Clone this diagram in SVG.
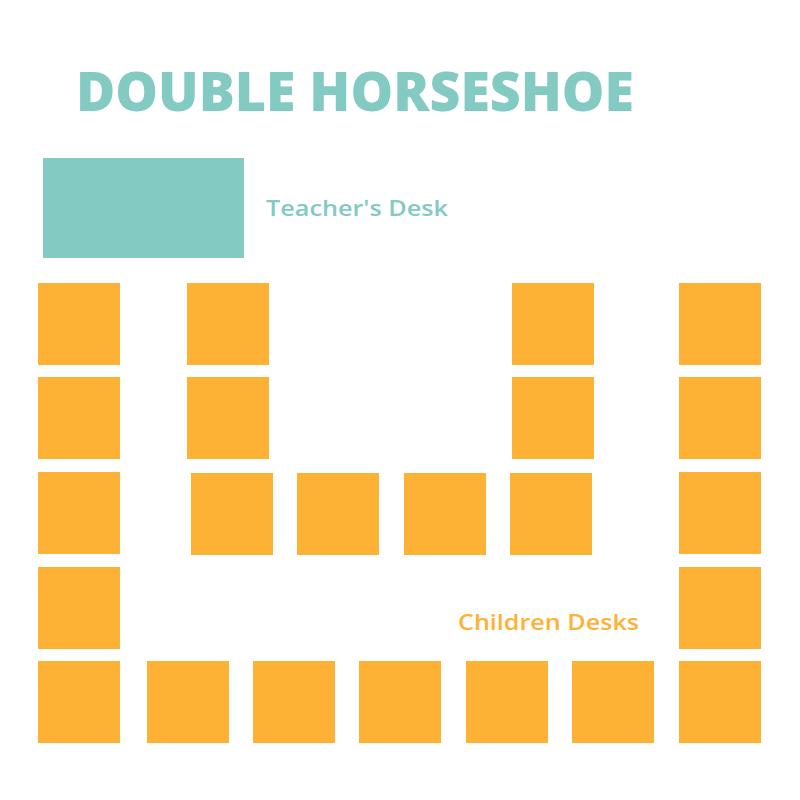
<svg xmlns="http://www.w3.org/2000/svg" width="800" height="800" viewBox="0 0 800 800">
<style>
.desk{fill:#FDB235}
.teal{fill:#82CAC2}
.title{font-family:"Open Sans","Liberation Sans",sans-serif;font-weight:800;font-size:54px;fill:#82CAC2}
.lbl{font-family:"Open Sans","Liberation Sans",sans-serif;font-weight:600;font-size:21px}
</style>
<rect width="800" height="800" fill="#FFFFFF"/>
<text class="title" x="76" y="111" textLength="558" lengthAdjust="spacingAndGlyphs">DOUBLE HORSESHOE</text>
<g id="teacher-desk">
<rect class="teal" x="43" y="158" width="201" height="100"/>
<text class="lbl" x="266" y="216" fill="#82CAC2" textLength="182" lengthAdjust="spacingAndGlyphs">Teacher's Desk</text>
</g>
<g id="children-desks">
<rect class="desk" x="38" y="283" width="82" height="82"/>
<rect class="desk" x="38" y="377" width="82" height="82"/>
<rect class="desk" x="38" y="472" width="82" height="82"/>
<rect class="desk" x="38" y="567" width="82" height="82"/>
<rect class="desk" x="38" y="661" width="82" height="82"/>
<rect class="desk" x="187" y="283" width="82" height="82"/>
<rect class="desk" x="187" y="377" width="82" height="82"/>
<rect class="desk" x="191" y="473" width="82" height="82"/>
<rect class="desk" x="297" y="473" width="82" height="82"/>
<rect class="desk" x="404" y="473" width="82" height="82"/>
<rect class="desk" x="510" y="473" width="82" height="82"/>
<rect class="desk" x="512" y="283" width="82" height="82"/>
<rect class="desk" x="512" y="377" width="82" height="82"/>
<rect class="desk" x="679" y="283" width="82" height="82"/>
<rect class="desk" x="679" y="377" width="82" height="82"/>
<rect class="desk" x="679" y="472" width="82" height="82"/>
<rect class="desk" x="679" y="567" width="82" height="82"/>
<rect class="desk" x="679" y="661" width="82" height="82"/>
<rect class="desk" x="147" y="661" width="82" height="82"/>
<rect class="desk" x="253" y="661" width="82" height="82"/>
<rect class="desk" x="359" y="661" width="82" height="82"/>
<rect class="desk" x="466" y="661" width="82" height="82"/>
<rect class="desk" x="572" y="661" width="82" height="82"/>
<text class="lbl" x="458" y="630" fill="#FDB235" textLength="181" lengthAdjust="spacingAndGlyphs">Children Desks</text>
</g>
</svg>
